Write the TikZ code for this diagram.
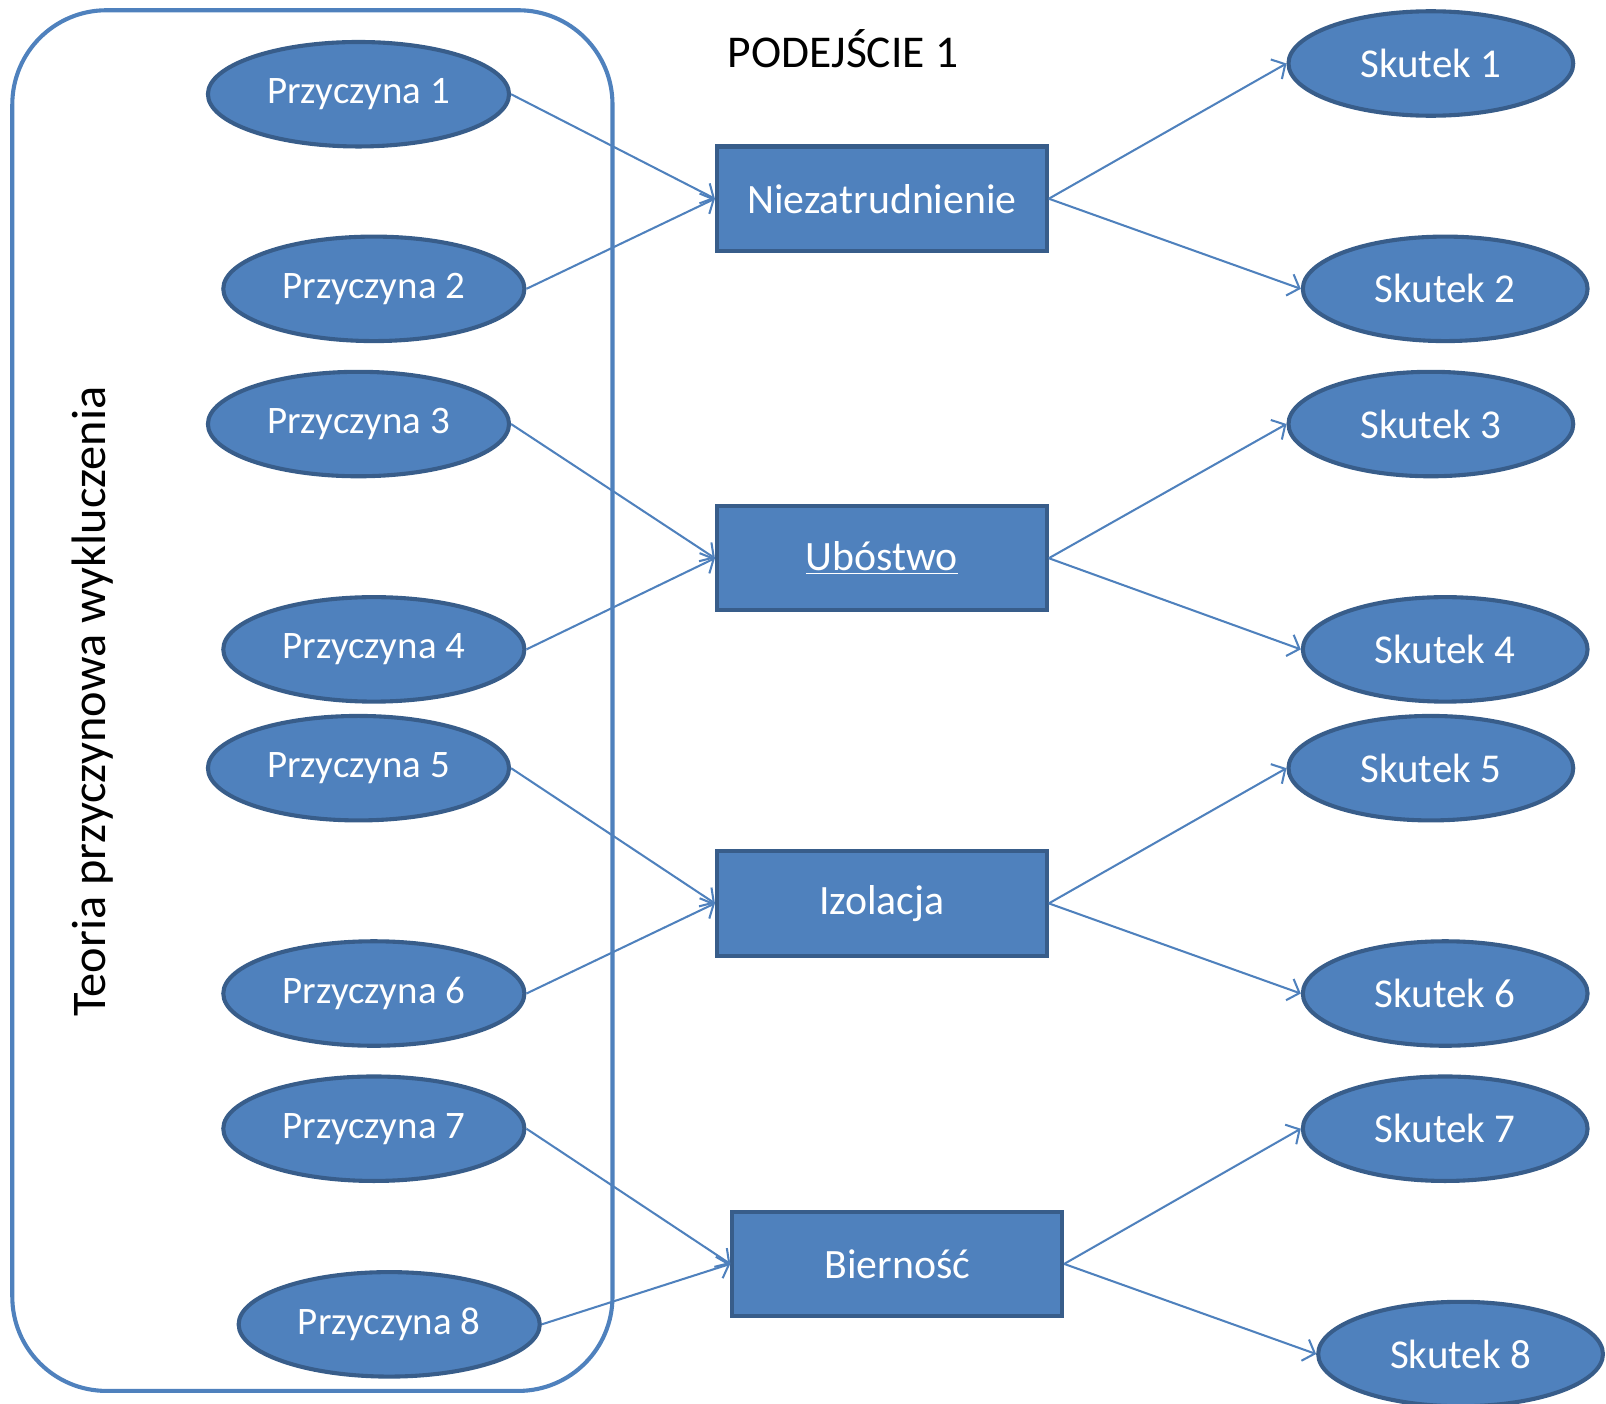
\documentclass[tikz,border=0pt]{standalone}
\usepackage{fontspec}
\setmainfont{Carlito}
\usetikzlibrary{arrows.meta,shapes.geometric}
\definecolor{boxblue}{HTML}{4F81BD}
\definecolor{edgeblue}{HTML}{385D8A}
\begin{document}
\begin{tikzpicture}[x=0.5pt,y=-0.5pt]
\tikzset{
cause node/.style={ellipse,draw=edgeblue,fill=boxblue,line width=2pt,minimum width=147pt,minimum height=51pt,inner sep=0,text=white,font=\fontsize{19}{23}\selectfont},
effect node/.style={ellipse,draw=edgeblue,fill=boxblue,line width=2pt,minimum width=139pt,minimum height=51pt,inner sep=0,text=white,font=\fontsize{20}{24}\selectfont},
state node/.style={rectangle,draw=edgeblue,fill=boxblue,line width=2pt,minimum width=161pt,minimum height=51pt,inner sep=0,text=white,font=\fontsize{20.4}{24}\selectfont},
link/.style={draw=boxblue,line width=1pt,-{Straight Barb[length=5pt,width=11pt]}}
}
\useasboundingbox (0,0) rectangle (1568,1370);

% frame of the causes
\draw[boxblue,line width=2pt,rounded corners=46pt] (12,10) rectangle (598,1358);
\node(theory)[rotate=90,font=\fontsize{23.6}{28}\selectfont] at (90,685) {Teoria przyczynowa wykluczenia};
\node(title)[font=\fontsize{22.2}{26}\selectfont] at (823,48) {PODEJŚCIE 1};

\node(c1)[cause node] at (350,92) {Przyczyna 1};
\node(c2)[cause node] at (365,282) {Przyczyna 2};
\node(c3)[cause node] at (350,414) {Przyczyna 3};
\node(c4)[cause node] at (365,634) {Przyczyna 4};
\node(c5)[cause node] at (350,750) {Przyczyna 5};
\node(c6)[cause node] at (365,970) {Przyczyna 6};
\node(c7)[cause node] at (365,1102) {Przyczyna 7};
\node(c8)[cause node] at (380,1293) {Przyczyna 8};

\node(s1)[state node] at (861,194) {Niezatrudnienie};
\node(s2)[state node] at (861,545) {\underline{Ubóstwo}};
\node(s3)[state node] at (861,882) {Izolacja};
\node(s4)[state node] at (876,1234) {Bierność};

\node(e1)[effect node] at (1397,62) {Skutek 1};
\node(e2)[effect node] at (1411,282) {Skutek 2};
\node(e3)[effect node] at (1397,414) {Skutek 3};
\node(e4)[effect node] at (1411,634) {Skutek 4};
\node(e5)[effect node] at (1397,750) {Skutek 5};
\node(e6)[effect node] at (1411,970) {Skutek 6};
\node(e7)[effect node] at (1411,1102) {Skutek 7};
\node(e8)[effect node] at (1426,1322) {Skutek 8};

\foreach \s/\a/\b in {1/1/2,2/3/4,3/5/6,4/7/8}{
  \draw[link] (c\a.east) -- (s\s.west);
  \draw[link] (c\b.east) -- (s\s.west);
  \draw[link] (s\s.east) -- (e\a.west);
  \draw[link] (s\s.east) -- (e\b.west);
}
\end{tikzpicture}
\end{document}
